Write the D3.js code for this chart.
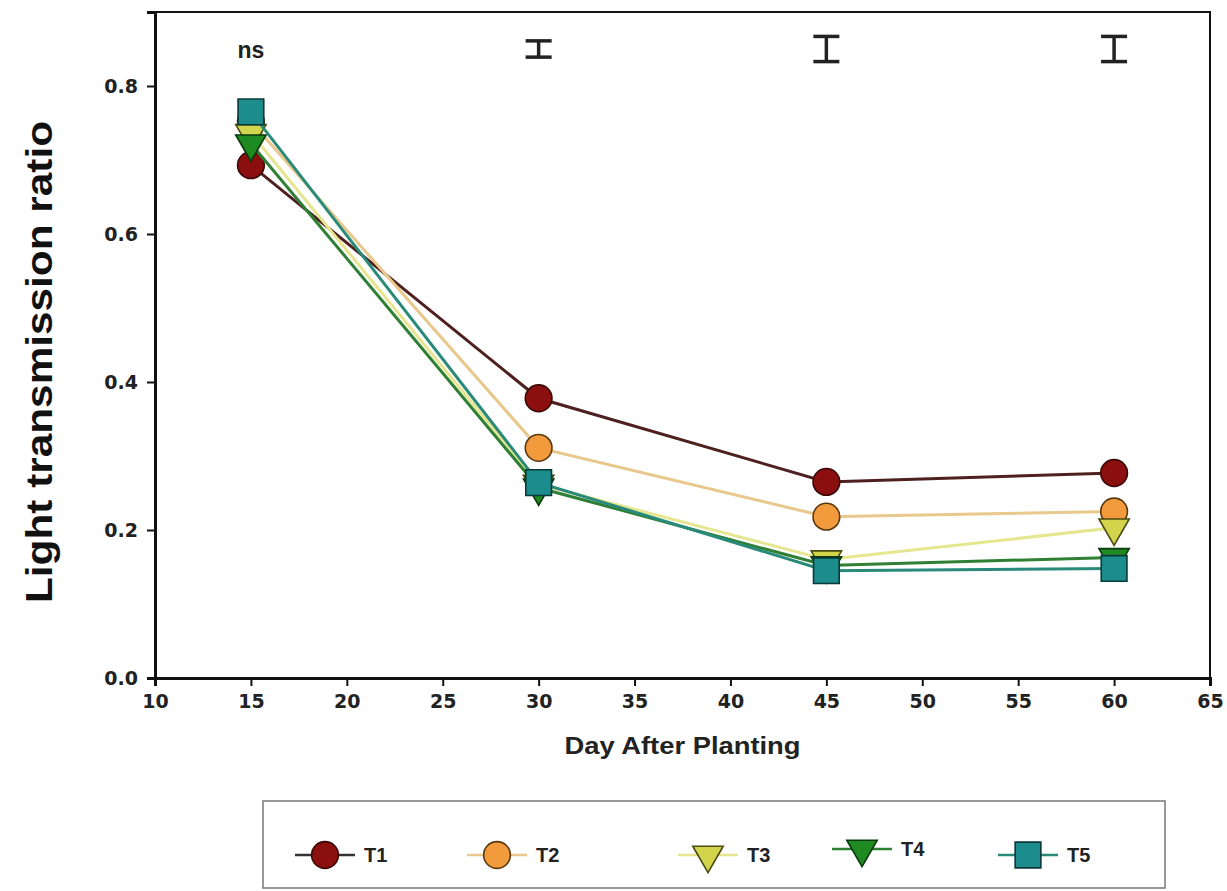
<!DOCTYPE html>
<html>
<head>
<meta charset="utf-8">
<script src="https://cdn.jsdelivr.net/npm/d3@7"></script>
<style>
  body { margin: 0; background: #fff; }
  svg { display: block; }
  .tick text { font-family: "DejaVu Sans", sans-serif; font-weight: bold; fill: #222; }
</style>
</head>
<body>
<div id="chart"></div>
<script>
// values
const days = [15, 30, 45, 60]
const seriesNames = ['T1', 'T2', 'T3', 'T4', 'T5']
const t1 = [0.693, 0.378, 0.265, 0.277]
const t2 = [0.752, 0.311, 0.218, 0.225]
const t3 = [0.736, 0.262, 0.160, 0.203]
const t4 = [0.722, 0.257, 0.152, 0.163]
const t5 = [0.765, 0.264, 0.145, 0.148]
const xTicks = [10, 15, 20, 25, 30, 35, 40, 45, 50, 55, 60, 65]
const yTicks = [0, 0.2, 0.4, 0.6, 0.8]
// LSD bars above each sampling day (half height in y units), ns = not significant
const sigLabels = ['ns', null, null, null]
const lsdHalf = [0, 0.011, 0.017, 0.017]
const sigLevel = 0.85

const values = [t1, t2, t3, t4, t5]
const styles = [
  { shape: 'circle', fill: '#8c0f0f', stroke: '#3a0808', line: '#4f2020' },
  { shape: 'circle', fill: '#f29b3c', stroke: '#5a3810', line: '#e8c88c' },
  { shape: 'tri', fill: '#d2d44c', stroke: '#4a4a12', line: '#e6e690' },
  { shape: 'tri', fill: '#1f8a22', stroke: '#0a3a0c', line: '#2f7f35' },
  { shape: 'square', fill: '#1c8c8c', stroke: '#0a3838', line: '#2a8a7a' }
]

const width = 1227
const height = 891
const plot = { left: 155, right: 1210, top: 12, bottom: 678 }

const svg = d3.select('#chart').append('svg')
  .attr('width', width)
  .attr('height', height)

const x = d3.scaleLinear().domain([10, 65]).range([plot.left, plot.right])
const y = d3.scaleLinear().domain([0, 0.9]).range([plot.bottom, plot.top])

function markerPath(shape) {
  if (shape === 'circle') return d3.symbol(d3.symbolCircle, 560)()
  if (shape === 'square') return d3.symbol(d3.symbolSquare, 660)()
  return d3.symbol(d3.symbolTriangle, 400)()
}

function drawMarker(g, style) {
  g.append('path')
    .attr('d', markerPath(style.shape))
    .attr('transform', style.shape === 'tri' ? 'rotate(180)' : null)
    .attr('fill', style.fill)
    .attr('stroke', style.stroke)
    .attr('stroke-width', 1.6)
}

// frame
svg.append('rect')
  .attr('x', plot.left)
  .attr('y', plot.top)
  .attr('width', plot.right - plot.left)
  .attr('height', plot.bottom - plot.top)
  .attr('fill', 'none')
  .attr('stroke', '#111')
  .attr('stroke-width', 2)

// axes
const xAxis = svg.append('g')
  .attr('transform', `translate(0,${plot.bottom})`)
  .call(d3.axisBottom(x).tickValues(xTicks).tickSize(8).tickPadding(9).tickFormat(d3.format('d')))
xAxis.select('.domain').attr('stroke', '#111').attr('stroke-width', 3)
xAxis.selectAll('.tick line').attr('stroke', '#111').attr('stroke-width', 2)
xAxis.selectAll('.tick text').attr('font-size', 19)

const yAxis = svg.append('g')
  .attr('transform', `translate(${plot.left},0)`)
  .call(d3.axisLeft(y).tickValues(yTicks).tickSize(8).tickPadding(9).tickFormat(d3.format('.1f')))
yAxis.select('.domain').attr('stroke', '#111').attr('stroke-width', 3)
yAxis.selectAll('.tick line').attr('stroke', '#111').attr('stroke-width', 2)
yAxis.selectAll('.tick text').attr('font-size', 19)

// axis titles
svg.append('text')
  .attr('x', (plot.left + plot.right) / 2)
  .attr('y', 754)
  .attr('text-anchor', 'middle')
  .attr('font-family', 'Liberation Sans, Arial, sans-serif')
  .attr('font-weight', 'bold')
  .attr('font-size', 24)
  .attr('textLength', 236)
  .attr('lengthAdjust', 'spacingAndGlyphs')
  .attr('fill', '#222')
  .text('Day After Planting')

svg.append('text')
  .attr('transform', 'translate(52,362) rotate(-90)')
  .attr('text-anchor', 'middle')
  .attr('font-family', 'Liberation Sans, Arial, sans-serif')
  .attr('font-weight', 'bold')
  .attr('font-size', 36)
  .attr('textLength', 482)
  .attr('lengthAdjust', 'spacingAndGlyphs')
  .attr('fill', '#111')
  .text('Light transmission ratio')

// significance marks
days.forEach((d, i) => {
  if (sigLabels[i]) {
    svg.append('text')
      .attr('x', x(d))
      .attr('y', 58)
      .attr('text-anchor', 'middle')
      .attr('font-family', 'Liberation Sans, Arial, sans-serif')
      .attr('font-weight', 'bold')
      .attr('font-size', 23)
      .attr('fill', '#222')
      .text(sigLabels[i])
    return
  }
  const top = y(sigLevel + lsdHalf[i])
  const bot = y(sigLevel - lsdHalf[i])
  const g = svg.append('g').attr('stroke', '#222').attr('stroke-width', 3.5)
  g.append('line').attr('x1', x(d)).attr('x2', x(d)).attr('y1', top).attr('y2', bot)
  g.append('line').attr('x1', x(d) - 13).attr('x2', x(d) + 13).attr('y1', top).attr('y2', top)
  g.append('line').attr('x1', x(d) - 13).attr('x2', x(d) + 13).attr('y1', bot).attr('y2', bot)
})

// series, T5 drawn last so it sits on top
const line = d3.line().x(d => x(d[0])).y(d => y(d[1]))

values.forEach((vals, i) => {
  const pts = days.map((d, j) => [d, vals[j]])
  const style = styles[i]
  svg.append('path')
    .datum(pts)
    .attr('d', line)
    .attr('fill', 'none')
    .attr('stroke', style.line)
    .attr('stroke-width', 3)
  pts.forEach(p => {
    const g = svg.append('g').attr('transform', `translate(${x(p[0])},${y(p[1])})`)
    drawMarker(g, style)
  })
})

// legend
const legendX = [325, 497, 708, 862, 1028]
const legendY = [855, 855, 855, 849, 855]
svg.append('rect')
  .attr('x', 263)
  .attr('y', 801)
  .attr('width', 902)
  .attr('height', 87)
  .attr('fill', 'none')
  .attr('stroke', '#777')
  .attr('stroke-width', 1.5)

seriesNames.forEach((name, i) => {
  const style = styles[i]
  const g = svg.append('g').attr('transform', `translate(${legendX[i]},${legendY[i]})`)
  g.append('line')
    .attr('x1', -30).attr('x2', 30)
    .attr('stroke', i === 0 ? '#333' : style.line)
    .attr('stroke-width', 2.5)
  drawMarker(g, style)
  g.append('text')
    .attr('x', 39)
    .attr('y', 7)
    .attr('font-family', 'Liberation Sans, Arial, sans-serif')
    .attr('font-weight', 'bold')
    .attr('font-size', 20)
    .attr('fill', '#222')
    .text(name)
})
</script>
</body>
</html>
